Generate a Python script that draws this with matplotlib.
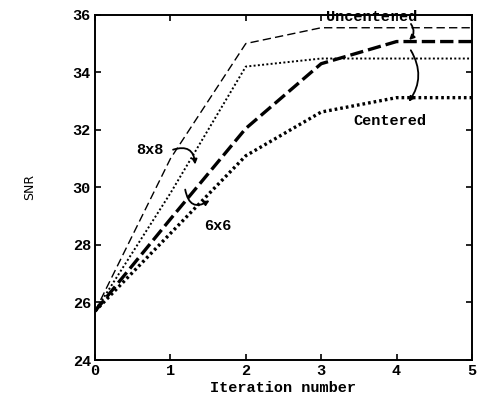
import matplotlib
matplotlib.use("Agg")
import matplotlib.pyplot as plt

iterations = [0, 1, 2, 3, 4, 5]
uncentered_8x8 = [25.7, 31.0, 35.0, 35.55, 35.55, 35.55]
centered_8x8 = [25.7, 29.8, 34.2, 34.48, 34.48, 34.48]
uncentered_6x6 = [25.7, 28.9, 32.05, 34.3, 35.07, 35.07]
centered_6x6 = [25.7, 28.4, 31.1, 32.62, 33.12, 33.12]

xticks = [0, 1, 2, 3, 4, 5]
yticks = [24, 26, 28, 30, 32, 34, 36]

mono = "Liberation Mono"

fig = plt.figure(figsize=(4.85, 4.11), dpi=100)
ax = fig.add_axes([0.196, 0.124, 0.777, 0.840])

ax.plot(iterations, uncentered_8x8, color="black", lw=1.0, ls=(0, (6, 3)))
ax.plot(iterations, centered_8x8, color="black", lw=1.4, ls=(0, (1, 1.2)))
ax.plot(iterations, uncentered_6x6, color="black", lw=2.4, ls=(0, (4, 1.5)))
ax.plot(iterations, centered_6x6, color="black", lw=2.4, ls=(0, (0.8, 0.9)))

ax.set_xlim(0, 5)
ax.set_ylim(24, 36)
ax.set_xticks(xticks)
ax.set_yticks(yticks)
ax.tick_params(direction="in", length=4, width=1.2, top=True, right=True,
               labelsize=11, pad=3)
for lab in ax.get_xticklabels() + ax.get_yticklabels():
    lab.set_family(mono)
    lab.set_weight("bold")
for s in ax.spines.values():
    s.set_linewidth(1.4)

ax.set_xlabel("Iteration number", family=mono, fontsize=11, weight="bold", labelpad=2)
ax.set_ylabel("SNR", family="DejaVu Sans", fontsize=9, labelpad=26)

tk = dict(family=mono, fontsize=11, weight="bold", ha="center", va="center")
ax.text(3.67, 35.93, "Uncentered", **tk)
ax.text(3.91, 32.31, "Centered", **tk)
ax.text(0.73, 31.3, "8x8", **tk)
ax.text(1.63, 28.66, "6x6", **tk)

ap = dict(arrowstyle="-|>", color="black", lw=1.3, mutation_scale=7)
ax.annotate("", xy=(1.33, 30.7), xytext=(1.0, 31.28),
            arrowprops=dict(ap, connectionstyle="arc3,rad=-0.7"))
ax.annotate("", xy=(1.55, 29.6), xytext=(1.19, 30.02),
            arrowprops=dict(ap, connectionstyle="arc3,rad=0.8"))
ax.annotate("", xy=(4.14, 35.06), xytext=(4.17, 35.76),
            arrowprops=dict(ap, connectionstyle="arc3,rad=-0.5"))
ax.annotate("", xy=(4.14, 32.9), xytext=(4.17, 34.85),
            arrowprops=dict(ap, connectionstyle="arc3,rad=-0.35"))

fig.savefig("out.png", dpi=100)
